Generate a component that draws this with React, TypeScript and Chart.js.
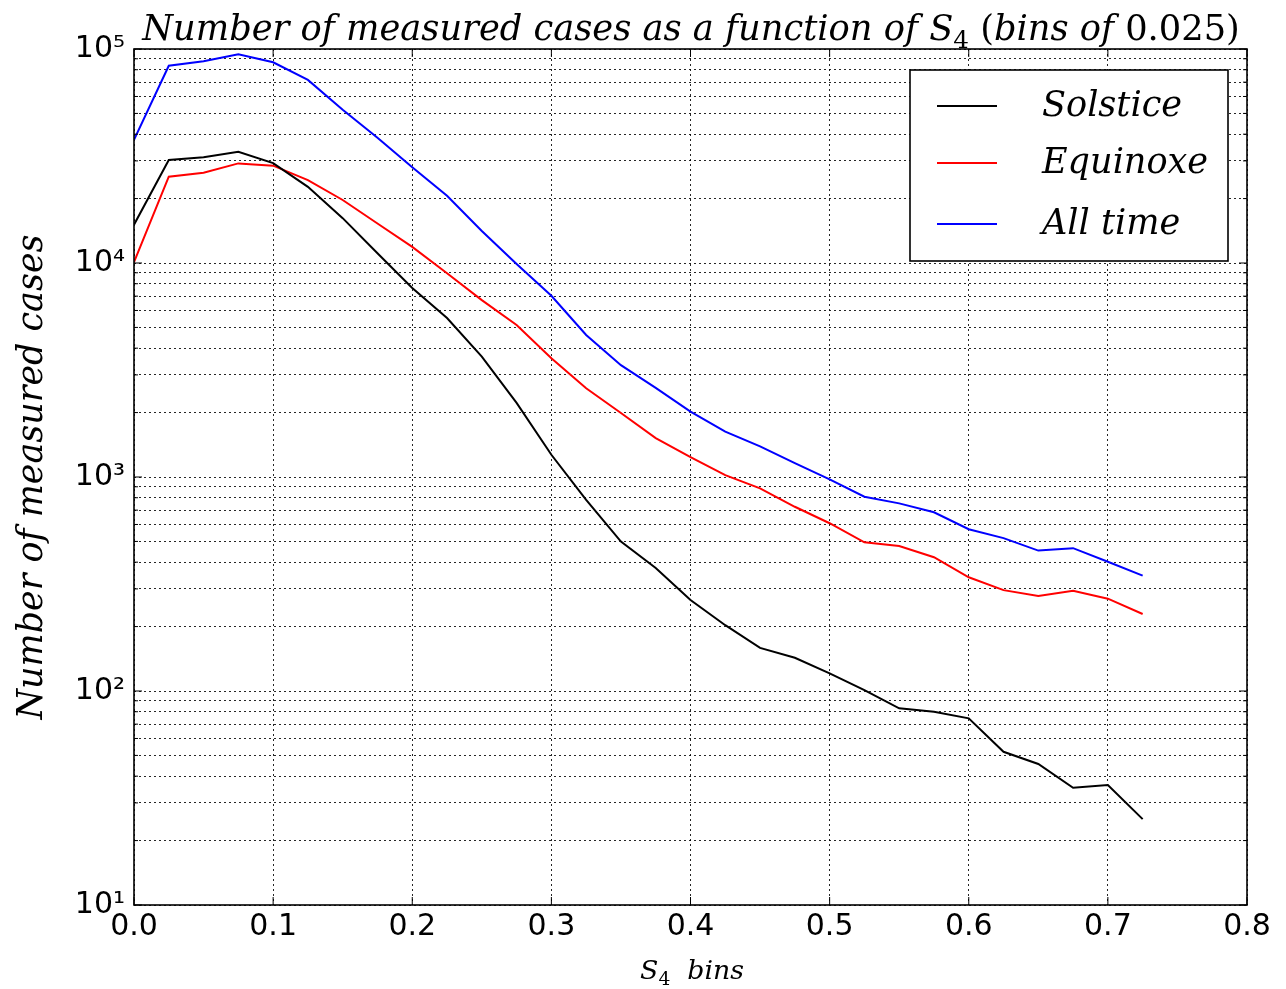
import React, { useEffect, useRef } from 'react';
import { Chart, registerables } from 'chart.js';

Chart.register(...registerables);

// ---- data ----
const s4Bins = [0, 0.025, 0.05, 0.075, 0.1, 0.125, 0.15, 0.175, 0.2, 0.225, 0.25, 0.275, 0.3, 0.325, 0.35, 0.375, 0.4, 0.425, 0.45, 0.475, 0.5, 0.525, 0.55, 0.575, 0.6, 0.625, 0.65, 0.675, 0.7, 0.725];
const solstice = [15100, 30300, 31200, 33100, 29300, 22700, 16200, 11100, 7640, 5530, 3650, 2220, 1270, 781, 499, 376, 266, 203, 159, 143, 121, 101, 83, 80, 74.5, 52, 45.6, 35.3, 36.4, 25.2];
const equinoxe = [10100, 25300, 26400, 29200, 28500, 24400, 19700, 15300, 11900, 8960, 6710, 5130, 3590, 2600, 1990, 1520, 1240, 1020, 885, 726, 608, 495, 476, 422, 340, 296, 278, 294, 270, 229];
const allTime = [37600, 83500, 87600, 94500, 86700, 71700, 52000, 38500, 28000, 20600, 14100, 9890, 7030, 4610, 3330, 2610, 2020, 1630, 1390, 1160, 975, 809, 753, 684, 570, 518, 453, 465, 402, 346];

const seriesNames = ['Solstice', 'Equinoxe', 'All time'];
const seriesColors = ['#000000', '#ff0000', '#0000ff'];

const xTickValues = [0, 0.1, 0.2, 0.3, 0.4, 0.5, 0.6, 0.7, 0.8];
const xTickLabels = ['0.0', '0.1', '0.2', '0.3', '0.4', '0.5', '0.6', '0.7', '0.8'];
const yTickValues = [
  10, 20, 30, 40, 50, 60, 70, 80, 90,
  100, 200, 300, 400, 500, 600, 700, 800, 900,
  1000, 2000, 3000, 4000, 5000, 6000, 7000, 8000, 9000,
  10000, 20000, 30000, 40000, 50000, 60000, 70000, 80000, 90000,
  100000,
];

const titleText = 'Number of measured cases as a function of ';
const yAxisLabel = 'Number of measured cases';

const SUP = '⁰¹²³⁴⁵⁶⁷⁸⁹';
function isPow10(v: number) {
  const e = Math.round(Math.log10(v));
  return Math.abs(v - Math.pow(10, e)) < 1e-6 * v;
}
function powLabel(v: number) {
  const e = Math.round(Math.log10(v));
  return '10' + String(e).split('').map((c) => SUP[+c]).join('');
}

const SERIF = "'DejaVu Serif', 'Liberation Serif', serif";

type Part = { text: string; font: string; dy?: number };

function buildTitleParts(ts: number): Part[] {
  return [
    { text: titleText, font: `italic ${ts}px ${SERIF}` },
    { text: 'S', font: `italic ${ts}px ${SERIF}` },
    { text: '4', font: `${(ts * 0.7).toFixed(1)}px ${SERIF}`, dy: ts * 0.22 },
    { text: ' (', font: `${ts}px ${SERIF}` },
    { text: 'bins of ', font: `italic ${ts}px ${SERIF}` },
    { text: '0.025)', font: `${ts}px ${SERIF}` },
  ];
}
function buildXLabelParts(xs: number): Part[] {
  return [
    { text: 'S', font: `italic ${xs}px ${SERIF}` },
    { text: '4', font: `${(xs * 0.7).toFixed(1)}px ${SERIF}`, dy: xs * 0.22 },
    { text: '  bins', font: `italic ${xs}px ${SERIF}` },
  ];
}

function richWidth(ctx: CanvasRenderingContext2D, parts: Part[]) {
  let total = 0;
  for (const p of parts) {
    ctx.font = p.font;
    total += ctx.measureText(p.text).width;
  }
  return total;
}

function fitSize(ctx: CanvasRenderingContext2D, build: (s: number) => Part[], target: number, base: number) {
  const w = richWidth(ctx, build(base));
  return w > 0 ? (base * target) / w : base;
}

function drawRich(ctx: CanvasRenderingContext2D, parts: Part[], cx: number, baseY: number) {
  const total = richWidth(ctx, parts);
  let x = cx - total / 2;
  ctx.textAlign = 'left';
  ctx.textBaseline = 'alphabetic';
  for (const p of parts) {
    ctx.font = p.font;
    ctx.fillText(p.text, x, baseY + (p.dy || 0));
    x += ctx.measureText(p.text).width;
  }
}

const decorPlugin = {
  id: 'decor',
  afterDraw(chart: any) {
    const { ctx, chartArea: a, scales } = chart;
    ctx.save();
    ctx.strokeStyle = '#000';
    ctx.fillStyle = '#000';
    ctx.lineWidth = 1;
    const seg = (x1: number, y1: number, x2: number, y2: number) => {
      ctx.beginPath();
      ctx.moveTo(x1, y1);
      ctx.lineTo(x2, y2);
      ctx.stroke();
    };
    // inward ticks
    for (const v of yTickValues) {
      const y = scales.y.getPixelForValue(v);
      const len = isPow10(v) ? 8 : 4;
      seg(a.left, y, a.left + len, y);
      seg(a.right, y, a.right - len, y);
    }
    for (const v of xTickValues) {
      const x = scales.x.getPixelForValue(v);
      seg(x, a.bottom, x, a.bottom - 8);
      seg(x, a.top, x, a.top + 8);
    }
    // frame
    ctx.lineWidth = 1.6;
    ctx.strokeRect(a.left, a.top, a.right - a.left, a.bottom - a.top);

    // title
    const ts = fitSize(ctx, buildTitleParts, 1098, 33);
    drawRich(ctx, buildTitleParts(ts), 691, 40);

    // x label
    const xs = fitSize(ctx, buildXLabelParts, 104, 28);
    drawRich(ctx, buildXLabelParts(xs), 692, 979);

    // legend
    const bw = 318, bh = 191;
    const bx = a.right - 19 - bw;
    const by = a.top + 21;
    ctx.fillStyle = '#fff';
    ctx.fillRect(bx, by, bw, bh);
    ctx.lineWidth = 1.6;
    ctx.strokeStyle = '#000';
    ctx.strokeRect(bx, by, bw, bh);
    const rowY = [36, 93, 154];
    ctx.font = `italic 32px ${SERIF}`;
    const eqW = ctx.measureText('Equinoxe').width;
    const ls = eqW > 0 ? (32 * 166) / eqW : 32;
    ctx.font = `italic ${ls.toFixed(1)}px ${SERIF}`;
    ctx.textAlign = 'left';
    ctx.textBaseline = 'middle';
    chart.data.datasets.forEach((ds: any, i: number) => {
      const y = by + rowY[i];
      ctx.strokeStyle = ds.borderColor;
      ctx.lineWidth = 1.8;
      seg(bx + 27, y, bx + 87, y);
      ctx.fillStyle = '#000';
      ctx.fillText(ds.label, bx + 132, y + 1);
    });
    ctx.restore();
  },
};

export default function App() {
  const canvasRef = useRef<HTMLCanvasElement | null>(null);

  useEffect(() => {
    const canvas = canvasRef.current;
    if (!canvas) return;
    const mctx = canvas.getContext('2d') as CanvasRenderingContext2D;
    mctx.font = `italic 34px ${SERIF}`;
    const yw = mctx.measureText(yAxisLabel).width;
    const yLabelSize = yw > 0 ? (34 * 485) / yw : 34;

    const seriesValues = [solstice, equinoxe, allTime];
    const chart = new Chart(canvas, {
      type: 'line',
      data: {
        datasets: seriesValues.map((vals, i) => ({
          label: seriesNames[i],
          data: vals.map((v, j) => ({ x: s4Bins[j], y: v })),
          borderColor: seriesColors[i],
          backgroundColor: seriesColors[i],
          borderWidth: 2,
          pointRadius: 0,
          tension: 0,
          fill: false,
        })),
      },
      options: {
        responsive: false,
        animation: false,
        layout: { padding: { left: 0, top: 49, right: 39, bottom: 0 } },
        plugins: {
          legend: { display: false },
          title: { display: false },
          tooltip: { enabled: false },
        },
        scales: {
          x: {
            type: 'linear',
            min: 0,
            max: 0.8,
            afterBuildTicks: (scale: any) => {
              scale.ticks = xTickValues.map((v) => ({ value: v }));
            },
            afterFit: (scale: any) => {
              scale.height = 84;
            },
            ticks: {
              autoSkip: false,
              maxRotation: 0,
              padding: 4,
              color: '#000',
              font: { family: "'DejaVu Sans', sans-serif", size: 30 },
              callback: (v: any) => {
                const idx = xTickValues.findIndex((t) => Math.abs(t - v) < 1e-9);
                return idx >= 0 ? xTickLabels[idx] : '';
              },
            },
            grid: {
              color: 'rgba(0,0,0,0.85)',
              lineWidth: 1,
              drawTicks: false,
            },
            border: { display: false, dash: [2, 3] },
          },
          y: {
            type: 'logarithmic',
            min: 10,
            max: 100000,
            afterBuildTicks: (scale: any) => {
              scale.ticks = yTickValues.map((v) => ({ value: v, major: isPow10(v) }));
            },
            afterFit: (scale: any) => {
              scale.width = 134;
            },
            ticks: {
              autoSkip: false,
              padding: 9,
              color: '#000',
              font: { family: "'DejaVu Sans', sans-serif", size: 30 },
              callback: (v: any) => (isPow10(Number(v)) ? powLabel(Number(v)) : ''),
            },
            grid: {
              color: 'rgba(0,0,0,0.85)',
              lineWidth: 1,
              drawTicks: false,
            },
            border: { display: false, dash: [2, 3] },
            title: {
              display: true,
              text: yAxisLabel,
              color: '#000',
              font: { family: SERIF, style: 'italic', size: yLabelSize, lineHeight: 1.2 },
              padding: { top: 12, bottom: 0 },
            },
          },
        },
      },
      plugins: [decorPlugin],
    } as any);
    return () => chart.destroy();
  }, []);

  return (
    <div style={{ position: 'fixed', left: 0, top: 0, width: 1286, height: 989, background: '#fff' }}>
      <canvas ref={canvasRef} width={1286} height={989} style={{ display: 'block' }} />
    </div>
  );
}
